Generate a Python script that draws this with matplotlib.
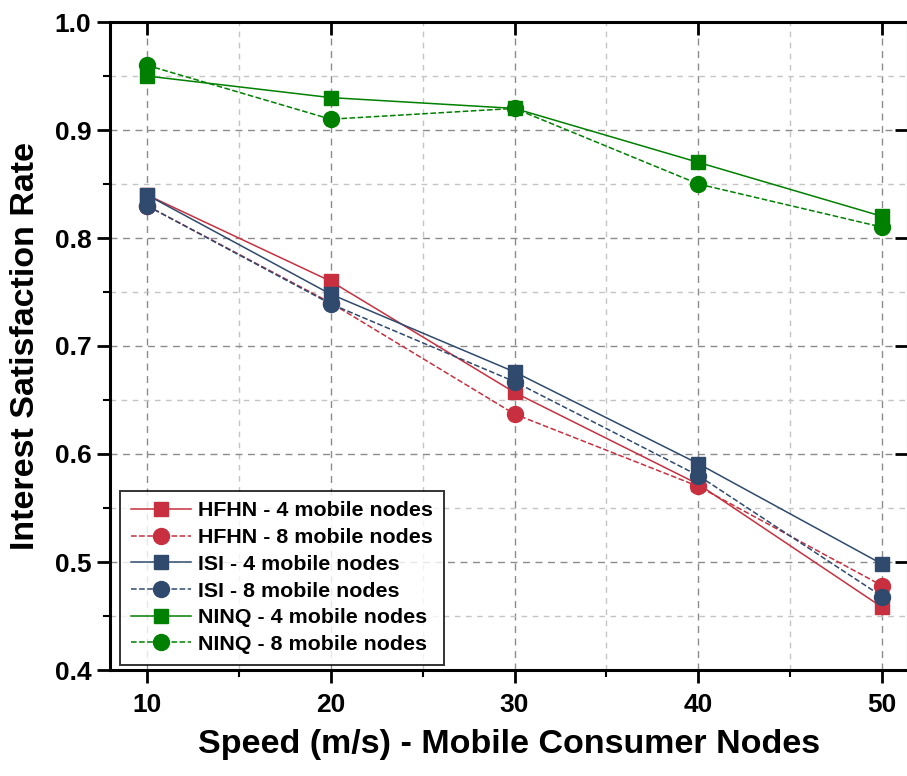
import numpy as np
import matplotlib.pyplot as plt
from matplotlib.ticker import MultipleLocator

plt.rcParams['font.family'] = ['Liberation Sans', 'DejaVu Sans']

speed = [10, 20, 30, 40, 50]

hfhn_4 = [0.84, 0.76, 0.657, 0.572, 0.458]
hfhn_8 = [0.83, 0.74, 0.637, 0.570, 0.478]
isi_4 = [0.84, 0.748, 0.676, 0.591, 0.498]
isi_8 = [0.83, 0.739, 0.667, 0.580, 0.468]
ninq_4 = [0.95, 0.93, 0.92, 0.87, 0.82]
ninq_8 = [0.96, 0.91, 0.92, 0.85, 0.81]

red = "#C8303F"
blue = "#2F4A6D"
green = "#008000"

fig = plt.figure(figsize=(9.07, 7.76), dpi=100)
ax = fig.add_axes([110 / 907, 106 / 776, 798 / 907, 648 / 776])

ax.plot(speed, hfhn_4, "-", color=red, lw=1.1, marker="s", ms=10, label="HFHN - 4 mobile nodes")
ax.plot(speed, hfhn_8, "--", color=red, lw=1.1, marker="o", ms=11.5, label="HFHN - 8 mobile nodes")
ax.plot(speed, isi_4, "-", color=blue, lw=1.1, marker="s", ms=10, label="ISI - 4 mobile nodes")
ax.plot(speed, isi_8, "--", color=blue, lw=1.1, marker="o", ms=11.5, label="ISI - 8 mobile nodes")
ax.plot(speed, ninq_4, "-", color=green, lw=1.1, marker="s", ms=10, label="NINQ - 4 mobile nodes")
ax.plot(speed, ninq_8, "--", color=green, lw=1.1, marker="o", ms=11.5, label="NINQ - 8 mobile nodes")

ax.set_xlim(8, 51.4)
ax.set_ylim(0.4, 1.0)
ax.xaxis.set_major_locator(MultipleLocator(10))
ax.xaxis.set_minor_locator(MultipleLocator(5))
ax.yaxis.set_major_locator(MultipleLocator(0.1))
ax.yaxis.set_minor_locator(MultipleLocator(0.05))

ax.grid(which="major", ls=(0, (5, 4)), color="#8c8c8c", lw=1.0)
ax.grid(which="minor", ls=(0, (4, 4)), color="#c4c4c4", lw=1.0)
ax.set_axisbelow(True)

for s in ax.spines.values():
    s.set_linewidth(2.2)

ax.tick_params(which="major", direction="out", length=9.5, width=2, labelsize=19,
               top=True, right=True)
ax.tick_params(which="minor", direction="out", length=5, width=1.5, top=False, right=False)
ax.xaxis.set_tick_params(which="major", pad=7)
ax.yaxis.set_tick_params(which="major", pad=4)
for lab in ax.get_xticklabels() + ax.get_yticklabels():
    lab.set_fontweight("bold")
# inward ticks on top and right like the original
for t in ax.xaxis.get_major_ticks():
    t.tick2line.set_marker(3)
for t in ax.yaxis.get_major_ticks():
    t.tick2line.set_marker(0)

ax.set_xlabel("Speed (m/s) - Mobile Consumer Nodes", fontsize=24.5, fontweight="bold", labelpad=9)
ax.set_ylabel("Interest Satisfaction Rate", fontsize=24.5, fontweight="bold", labelpad=10)

leg = ax.legend(loc="lower left", bbox_to_anchor=(0.006, 0.0), borderaxespad=0.25,
                prop={"weight": "bold", "size": 15.4}, frameon=True, fancybox=False,
                edgecolor="black", handlelength=2.8, borderpad=0.5, labelspacing=0.36,
                handletextpad=0.35)
leg.get_frame().set_linewidth(1.4)

fig.savefig("out.png", dpi=100)
